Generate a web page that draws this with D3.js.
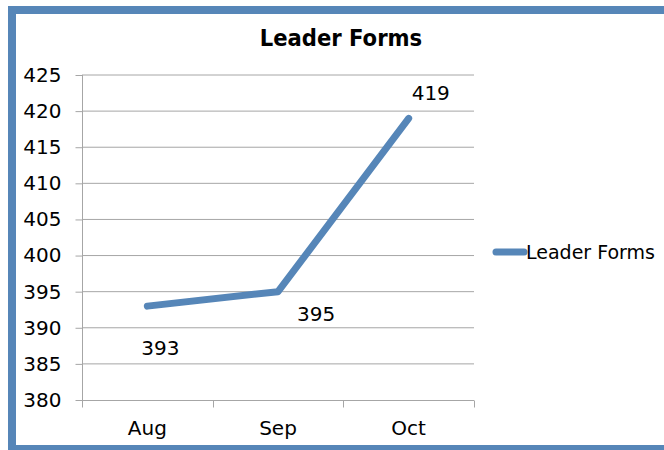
<!DOCTYPE html>
<html>
<head>
<meta charset="utf-8">
<script src="https://cdn.jsdelivr.net/npm/d3@7"></script>
<style>
  html, body { margin: 0; padding: 0; background: #fff; }
  svg { display: block; }
</style>
</head>
<body>
<div id="chart"></div>
<script>
// Leader Forms, monthly counts
const months = ["Aug", "Sep", "Oct"];
const leaderForms = [393, 395, 419];
const yTicks = [380, 385, 390, 395, 400, 405, 410, 415, 420, 425];
const seriesName = "Leader Forms";

(function() {
  const W = 664, H = 450;
  const blue = "#5686b8";
  const font = "'DejaVu Sans', sans-serif";
  const fs = "20px";

  const svg = d3.select("#chart").append("svg")
    .attr("width", W).attr("height", H);

  // Outer frame (right side runs off the picture)
  svg.append("rect")
    .attr("x", 12).attr("y", 10)
    .attr("width", 720).attr("height", 439)
    .attr("fill", "#fff")
    .attr("stroke", blue).attr("stroke-width", 8);

  const x = d3.scaleBand().domain(months).range([82, 474]);
  const y = d3.scaleLinear().domain([380, 425]).range([400, 75]);

  // Title
  svg.append("text")
    .attr("x", 341).attr("y", 46)
    .attr("text-anchor", "middle")
    .style("font-family", "'DejaVu Sans Condensed', 'DejaVu Sans', sans-serif")
    .style("font-weight", "bold").style("font-size", "23.5px")
    .attr("fill", "#000").text(seriesName);

  // Gridlines
  svg.append("g").selectAll("line").data(yTicks.slice(1)).enter().append("line")
    .attr("x1", 82).attr("x2", 474)
    .attr("y1", d => y(d)).attr("y2", d => y(d))
    .attr("stroke", "#a6a6a6").attr("stroke-width", 1);

  // Y axis
  const yAxis = svg.append("g").attr("transform", "translate(82.5,0)")
    .call(d3.axisLeft(y).tickValues(yTicks).tickSize(7).tickPadding(14));
  yAxis.select(".domain").attr("stroke", "#a6a6a6").attr("d", `M0,${y(425)}V${y(380)}`);
  yAxis.selectAll(".tick line").attr("stroke", "#a6a6a6");
  yAxis.selectAll("text")
    .style("font-family", font).style("font-size", fs).attr("fill", "#000");

  // X axis
  const xAxis = svg.append("g").attr("transform", `translate(0,${y(380) + 0.5})`)
    .call(d3.axisBottom(x).tickSize(0).tickPadding(20));
  xAxis.select(".domain").attr("stroke", "#a6a6a6").attr("d", "M82,0H474");
  xAxis.selectAll("text")
    .style("font-family", font).style("font-size", fs).attr("fill", "#000");
  // category boundary ticks
  const bounds = months.map(m => x(m)).concat([x(months[months.length - 1]) + x.bandwidth()]);
  xAxis.selectAll(".bound").data(bounds).enter().append("line")
    .attr("class", "bound")
    .attr("x1", d => Math.round(d) + 0.5).attr("x2", d => Math.round(d) + 0.5)
    .attr("y1", 0).attr("y2", 7)
    .attr("stroke", "#a6a6a6");

  // Series line
  const pts = months.map((m, i) => [x(m) + x.bandwidth() / 2, y(leaderForms[i])]);
  svg.append("path")
    .attr("d", d3.line()(pts))
    .attr("fill", "none").attr("stroke", blue)
    .attr("stroke-width", 7).attr("stroke-linecap", "round").attr("stroke-linejoin", "round");

  // Data labels
  const labelOffsets = [[-6, 42], [19, 22], [3, -25]];
  svg.append("g").selectAll("text").data(leaderForms).enter().append("text")
    .attr("x", (d, i) => pts[i][0] + labelOffsets[i][0])
    .attr("y", (d, i) => pts[i][1] + labelOffsets[i][1])
    .attr("dy", "0.35em")
    .style("font-family", font).style("font-size", fs)
    .attr("fill", "#000").text(d => d);

  // Legend
  const leg = svg.append("g").attr("transform", "translate(0,252)");
  leg.append("line").attr("x1", 496).attr("x2", 524).attr("y1", 0).attr("y2", 0)
    .attr("stroke", blue).attr("stroke-width", 7).attr("stroke-linecap", "round");
  leg.append("text").attr("x", 526).attr("y", 0).attr("dy", "0.35em")
    .style("font-family", font).style("font-size", "19px")
    .attr("fill", "#000").text(seriesName);
})();
</script>
</body>
</html>
